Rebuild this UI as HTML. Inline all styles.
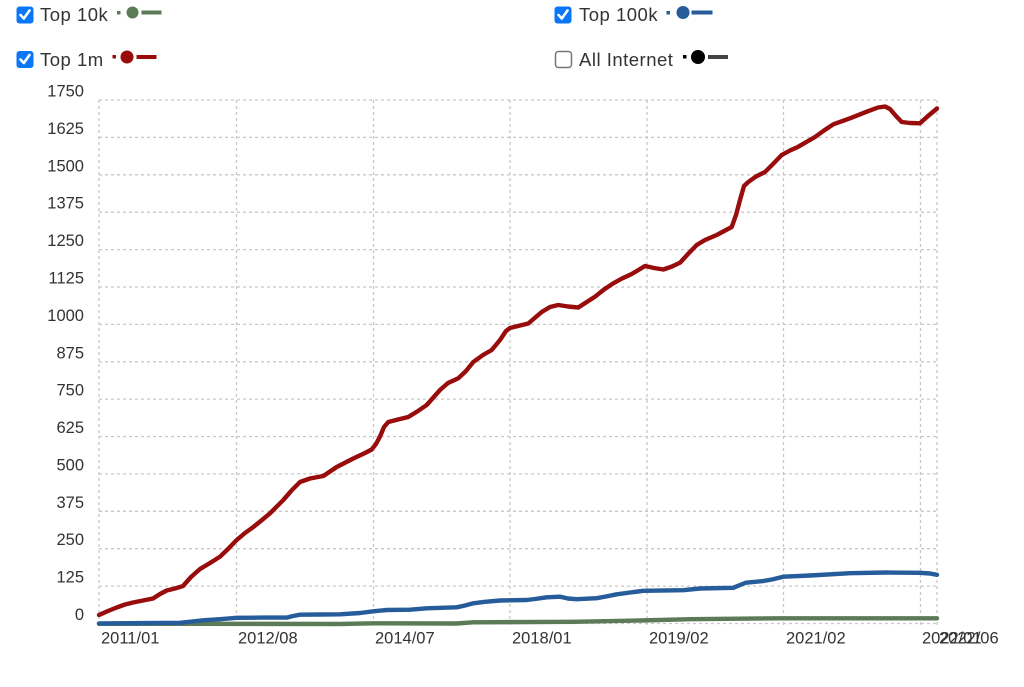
<!DOCTYPE html>
<html><head><meta charset="utf-8"><style>
html,body{margin:0;padding:0;background:#fff;}
svg{display:block;font-family:"Liberation Sans",sans-serif;}
</style></head><body>
<svg width="1024" height="687" viewBox="0 0 1024 687" xmlns="http://www.w3.org/2000/svg">
<rect width="1024" height="687" fill="#fff"/>
<!-- Legend -->
<g font-size="18.5" fill="#333" letter-spacing="0.5">
 <rect x="16.5" y="6.5" width="17" height="17" rx="3" fill="#0b76f7"/>
 <path d="M20.5 15 L23.8 18.5 L29.5 10.5" stroke="#fff" stroke-width="2.6" fill="none" stroke-linecap="round" stroke-linejoin="round"/>
 <text x="40" y="21">Top 10k</text>
 <rect x="117" y="11" width="3.5" height="3.5" fill="#5b7b56"/>
 <circle cx="132.5" cy="12.5" r="6" fill="#5b7b56"/>
 <rect x="141.5" y="10.5" width="20" height="4" fill="#5b7b56"/>

 <rect x="16.5" y="51" width="17" height="17" rx="3" fill="#0b76f7"/>
 <path d="M20.5 59.5 L23.8 63 L29.5 55" stroke="#fff" stroke-width="2.6" fill="none" stroke-linecap="round" stroke-linejoin="round"/>
 <text x="40" y="66">Top 1m</text>
 <rect x="112.5" y="55" width="3.5" height="3.5" fill="#990c0c"/>
 <circle cx="127" cy="57" r="6.5" fill="#990c0c"/>
 <rect x="136.5" y="55" width="20" height="4" fill="#990c0c"/>

 <rect x="554.5" y="6.5" width="17" height="17" rx="3" fill="#0b76f7"/>
 <path d="M558.5 15 L561.8 18.5 L567.5 10.5" stroke="#fff" stroke-width="2.6" fill="none" stroke-linecap="round" stroke-linejoin="round"/>
 <text x="579" y="21">Top 100k</text>
 <rect x="666.5" y="11" width="3.5" height="3.5" fill="#255c99"/>
 <circle cx="683" cy="12.5" r="6.5" fill="#255c99"/>
 <rect x="691.5" y="10.5" width="21" height="4" fill="#255c99"/>

 <rect x="555.5" y="51.5" width="16" height="16" rx="3" fill="#fff" stroke="#767676" stroke-width="1.5"/>
 <text x="579" y="66">All Internet</text>
 <rect x="683" y="55" width="3.5" height="3.5" fill="#000"/>
 <circle cx="698" cy="57" r="7" fill="#000"/>
 <rect x="708" y="55" width="20" height="4" fill="#444"/>
</g>

<!-- Grid -->
<g stroke="#c8c8c8" stroke-width="1.3" stroke-dasharray="3,3" fill="none">
 <line x1="99" y1="100" x2="937" y2="100"/>
 <line x1="99" y1="137.4" x2="937" y2="137.4"/>
 <line x1="99" y1="174.8" x2="937" y2="174.8"/>
 <line x1="99" y1="212.2" x2="937" y2="212.2"/>
 <line x1="99" y1="249.6" x2="937" y2="249.6"/>
 <line x1="99" y1="287" x2="937" y2="287"/>
 <line x1="99" y1="324.4" x2="937" y2="324.4"/>
 <line x1="99" y1="361.8" x2="937" y2="361.8"/>
 <line x1="99" y1="399.1" x2="937" y2="399.1"/>
 <line x1="99" y1="436.5" x2="937" y2="436.5"/>
 <line x1="99" y1="473.9" x2="937" y2="473.9"/>
 <line x1="99" y1="511.3" x2="937" y2="511.3"/>
 <line x1="99" y1="548.7" x2="937" y2="548.7"/>
 <line x1="99" y1="586.1" x2="937" y2="586.1"/>
 <line x1="99" y1="623.5" x2="937" y2="623.5"/>
 <line x1="99" y1="100" x2="99" y2="627"/>
 <line x1="236.5" y1="100" x2="236.5" y2="627"/>
 <line x1="373.5" y1="100" x2="373.5" y2="627"/>
 <line x1="510" y1="100" x2="510" y2="627"/>
 <line x1="647" y1="100" x2="647" y2="627"/>
 <line x1="783.5" y1="100" x2="783.5" y2="627"/>
 <line x1="920.5" y1="100" x2="920.5" y2="627"/>
 <line x1="937" y1="100" x2="937" y2="627"/>
</g>

<!-- Y labels -->
<g font-size="16.5" fill="#333" text-anchor="end">
 <text x="84" y="96.5">1750</text>
 <text x="84" y="133.9">1625</text>
 <text x="84" y="171.3">1500</text>
 <text x="84" y="208.7">1375</text>
 <text x="84" y="246.1">1250</text>
 <text x="84" y="283.5">1125</text>
 <text x="84" y="320.9">1000</text>
 <text x="84" y="358.3">875</text>
 <text x="84" y="395.6">750</text>
 <text x="84" y="433">625</text>
 <text x="84" y="470.4">500</text>
 <text x="84" y="507.8">375</text>
 <text x="84" y="545.2">250</text>
 <text x="84" y="582.6">125</text>
 <text x="84" y="620">0</text>
</g>

<!-- X labels -->
<g font-size="16.5" fill="#333">
 <text x="101" y="643.5">2011/01</text>
 <text x="238" y="643.5">2012/08</text>
 <text x="375" y="643.5">2014/07</text>
 <text x="512" y="643.5">2018/01</text>
 <text x="649" y="643.5">2019/02</text>
 <text x="786" y="643.5">2021/02</text>
 <text x="922" y="643.5">2022/01</text>
 <text x="939" y="643.5">2022/06</text>
</g>

<!-- Series -->
<g fill="none" stroke-width="4.4" stroke-linejoin="round" stroke-linecap="round">
<polyline stroke="#5b7b56" points="99,623.8 200,623.8 340,624 373,623.3 456.7,623.5 473,622.3 573,621.8 640,620.5 690,619.2 780,618.3 937,618.3"/>
<polyline stroke="#255c99" points="99,623.5 180,622.8 192,621.5 203,620.3 220,619.2 236.7,617.8 260,617.6 286.7,617.6 293,616 300,614.7 320,614.5 340,614.3 360,613 373.3,611.3 386.7,610 410,609.7 426.7,608.3 456.7,607.3 465,605.5 473.3,603.3 485,601.8 500,600.5 526.7,600 535,599 546.7,597.3 560,596.7 568,598.5 576.7,599.2 596.7,598.2 606,596.5 616.7,594.3 630,592.5 643.3,590.8 683.3,590.2 700,588.5 733.3,587.8 740,585 746,582.7 763.3,581 772,579.5 783.3,576.7 810,575.5 850,573.2 886.7,572.5 920,572.8 930,573.5 937,574.8"/>
<polyline stroke="#990c0c" points="99,615 108,611 116.7,607.5 125,604.5 133,602.5 143,600.5 153,598.5 160,594 166.7,590.5 175,588.5 183,586 191,577 200,569 210,563 220,556.7 228,549 236.7,540 245,533 253.3,527 262,520 270,513.3 283.3,500 292,490 300,482 310,478.5 323.3,476 336.7,467 353.3,458.5 365,453 371.7,449.5 376,444 380,436.5 384,427 388.3,422 398,419.5 408.3,417 418,411 426.7,405 440,390 448,383 458.3,378.3 466,371 473.3,362 483,355 491.7,350 500,340 506,331 510,328 518,326 528.3,323.5 541.7,312 550,307 558.3,305 568,306.5 578.3,307.5 586,302.5 595,296.7 604,289.5 613.3,283.3 622,278.5 631.7,274 645,266 654,268 663.3,269.5 672,266.5 680,262.7 688,254 696.7,245 705,240 716.7,235 731.7,227 736,215 740,200 744,186 748.3,182 756,176.5 765,172 773,164 781.7,155 790,150.5 798.3,146.7 815,137 824,130.5 833.3,124.3 850,118.3 866.7,111.7 878,107.5 885,106.5 890,109 896,116 901.7,122 910,123 920,123.3 928,116 937,108.5"/>
</g>
</svg>
</body></html>
